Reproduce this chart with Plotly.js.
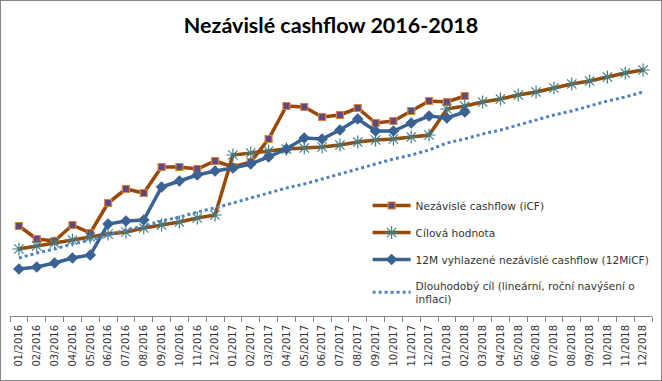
<!DOCTYPE html>
<html>
<head>
<meta charset="utf-8">
<script src="https://cdn.plot.ly/plotly-3.0.1.min.js"></script>
<style>
  html, body { margin: 0; padding: 0; background: #fff; }
  #frame { width: 660px; height: 379px; border: 1px solid #868686; }
  #chart { width: 660px; height: 379px; }
</style>
</head>
<body>
<div id="frame"><div id="chart"></div></div>
<script>
// Month categories (tick labels)
const months = [
  "01/2016","02/2016","03/2016","04/2016","05/2016","06/2016","07/2016","08/2016","09/2016","10/2016","11/2016","12/2016",
  "01/2017","02/2017","03/2017","04/2017","05/2017","06/2017","07/2017","08/2017","09/2017","10/2017","11/2017","12/2017",
  "01/2018","02/2018","03/2018","04/2018","05/2018","06/2018","07/2018","08/2018","09/2018","10/2018","11/2018","12/2018"
];

// Nezávislé cashflow (iCF) — up to 02/2018 (values in relative units, no axis shown)
const icf = [90, 77, 75, 91, 83, 113, 127, 123, 149, 149, 147, 155,
             149, 154, 177, 210, 209, 199, 201, 208, 193, 195, 205, 215,
             214, 220];

// Cílová hodnota
const target = [67, 70, 73, 76, 79, 82, 84, 88, 91, 94, 98, 101,
                161, 163, 165, 167, 168, 169, 171, 174, 176, 177, 179, 181,
                207, 210, 214, 217, 221, 224, 228, 232, 235, 239, 243, 246];

// 12M vyhlazené nezávislé cashflow (12MiCF)
const smoothed = [47, 49, 53, 58, 61, 92, 95, 96, 129, 135, 141, 145,
                  148, 152, 159, 167, 178, 177, 186, 197, 185, 185, 193, 200,
                  198, 204];

// Dlouhodobý cíl (lineární, roční navýšení o inflaci)
const longTerm = [58, 63, 67, 72, 76, 81, 86, 90, 95, 99, 104, 108,
                  113, 118, 123, 128, 132, 137, 142, 147, 152, 157, 161, 166,
                  173, 177, 182, 186, 191, 196, 201, 205, 210, 215, 219, 224];

const names = [
  "Nezávislé cashflow (iCF)",
  "Cílová hodnota",
  "12M vyhlazené nezávislé cashflow (12MiCF)",
  "Dlouhodobý cíl (lineární, roční navýšení o<br>inflaci)"
];

const FONT = "DejaVu Sans";

const traces = [
  {
    x: months.slice(0, icf.length), y: icf, name: names[0], legendgroup: "a",
    type: "scatter", mode: "lines+markers",
    line: { color: "#984807", width: 3.5 },
    marker: { symbol: "square", size: 7, color: "#5F4A7B", line: { color: "#E0803A", width: 1.2 } }
  },
  {
    x: months, y: target, name: names[1], legendgroup: "b",
    type: "scatter", mode: "lines+markers",
    line: { color: "#984807", width: 3.5 },
    marker: { symbol: "asterisk-open", size: 11, color: "#3F7E86", line: { color: "#3F7E86", width: 1.2 } }
  },
  {
    x: months.slice(0, smoothed.length), y: smoothed, name: names[2], legendgroup: "c",
    type: "scatter", mode: "lines+markers",
    line: { color: "#3A6293", width: 3.5 },
    marker: { symbol: "diamond", size: 9, color: "#3A6293" }
  },
  {
    x: months, y: longTerm, name: names[3], legendgroup: "d",
    type: "scatter", mode: "lines",
    line: { color: "#4F81BD", width: 3, dash: "dot" }
  }
];

const layout = {
  width: 660, height: 379,
  margin: { l: 9, r: 9, t: 49, b: 64, autoexpand: false },
  paper_bgcolor: "#ffffff", plot_bgcolor: "#ffffff",
  title: {
    text: "<b>Nezávislé cashflow 2016-2018</b>",
    font: { family: "Lato", size: 21.5, color: "#000" },
    x: 0.5, xanchor: "center", y: 0.935, yanchor: "middle", xref: "paper"
  },
  font: { family: FONT, size: 10, color: "#333" },
  xaxis: {
    type: "category", range: [-0.5, 35.5], automargin: false,
    showgrid: false, zeroline: false,
    showline: true, linecolor: "#868686", linewidth: 1,
    ticks: "outside", ticklen: 5, tickcolor: "#868686", tickson: "boundaries",
    ticklabelstandoff: 4,
    tickangle: -90, tickfont: { family: FONT, size: 10, color: "#333" },
    fixedrange: true
  },
  yaxis: { visible: false, range: [0, 266], fixedrange: true },
  showlegend: true,
  legend: {
    x: 0.557, y: 0.47, xanchor: "left", yanchor: "top",
    bgcolor: "rgba(0,0,0,0)", borderwidth: 0,
    traceorder: "grouped", tracegroupgap: 8, itemwidth: 38,
    font: { family: FONT, size: 10.6, color: "#333" }
  }
};

Plotly.newPlot("chart", traces, layout, { displayModeBar: false, staticPlot: true });
</script>
</body>
</html>
